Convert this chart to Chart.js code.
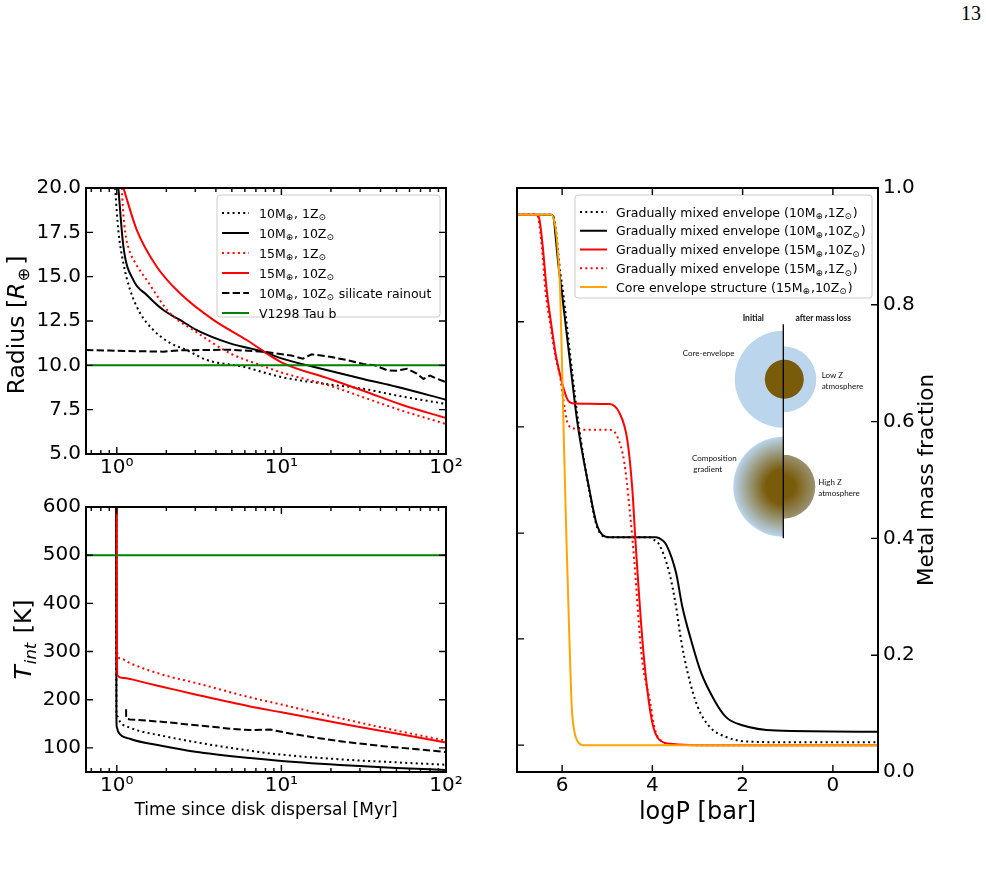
<!DOCTYPE html>
<html>
<head>
<meta charset="utf-8">
<title>Radius, T_int and metal mass fraction</title>
<script src="https://cdn.jsdelivr.net/npm/chart.js@4.4.1/dist/chart.umd.min.js"></script>
<style>
  body { margin: 0; background: #fff; }
  #page { position: relative; width: 986px; height: 874px; overflow: hidden; background: #fff; }
  #pageno { position: absolute; left: 961px; top: 3px; font: 20px "Liberation Serif", serif; line-height: 20px; color: #000; }
  canvas { position: absolute; }
  #cRad { left: 0; top: 170px; }
  #cTint { left: 0; top: 490px; }
  #cZ { left: 490px; top: 170px; }
</style>
</head>
<body>
<div id="page">
  <div id="pageno">13</div>
  <canvas id="cRad" width="470" height="320"></canvas>
  <canvas id="cTint" width="470" height="370"></canvas>
  <canvas id="cZ" width="496" height="680"></canvas>
</div>
<script>
// ticks
const timeTicks = [1, 10, 100];
const timeTickLabels = ["10⁰", "10¹", "10²"];
const timeMinor = [0.7, 0.8, 0.9, 2, 3, 4, 5, 6, 7, 8, 9, 20, 30, 40, 50, 60, 70, 80, 90];
const radiusTicks = [5, 7.5, 10, 12.5, 15, 17.5, 20];
const tintTicks = [100, 200, 300, 400, 500, 600];
const pTicks = [6, 4, 2, 0];
const zTicks = [0, 0.2, 0.4, 0.6, 0.8, 1.0];
const zLeftTicks = [0.046, 0.228, 0.409, 0.591, 0.771];

// legend labels ("_" = next char is a subscript)
const evoLabels = ["10M_⊕, 1Z_⊙", "10M_⊕, 10Z_⊙", "15M_⊕, 1Z_⊙", "15M_⊕, 10Z_⊙", "10M_⊕, 10Z_⊙ silicate rainout", "V1298 Tau b"];
const zLabels = [
  "Gradually mixed envelope (10M_⊕,1Z_⊙)",
  "Gradually mixed envelope (10M_⊕,10Z_⊙)",
  "Gradually mixed envelope (15M_⊕,10Z_⊙)",
  "Gradually mixed envelope (15M_⊕,1Z_⊙)",
  "Core envelope structure (15M_⊕,10Z_⊙)"
];

// radius vs time [Myr]
const tR10m1z = [0.976, 1.022, 1.097, 1.205, 1.385, 1.668, 2.107, 2.66, 3.52, 5.85, 10, 19.7, 31.4, 50.1, 100];
const r10m1z = [20, 17.6, 15.75, 14.25, 12.95, 11.99, 11.26, 10.86, 10.3, 9.92, 9.34, 8.92, 8.68, 8.3, 7.82];
const tR10m10z = [1.022, 1.097, 1.261, 1.52, 1.918, 2.42, 3.06, 4.875, 7.77, 10, 15.6, 31.4, 50.1, 100];
const r10m10z = [20, 16.69, 14.81, 13.97, 13.12, 12.56, 11.99, 11.24, 10.77, 10.39, 9.92, 9.23, 8.79, 8.06];
const tR15m1z = [1.072, 1.095, 1.125, 1.18, 1.31, 1.52, 2.107, 2.92, 4.875, 7.42, 10, 19.7, 31.4, 55, 100];
const r15m1z = [20, 18.6, 17.5, 16.6, 15.7, 14.81, 12.93, 11.99, 10.68, 10.02, 9.6, 8.85, 8.2, 7.42, 6.69];
const tR15m10z = [1.097, 1.323, 1.75, 2.42, 3.86, 6.15, 10, 19.7, 31.4, 55, 100];
const r15m10z = [20, 17.63, 15.56, 14.06, 12.56, 11.43, 10.17, 9.23, 8.57, 7.75, 7.03];
const tRrain = [0.65, 0.9, 1.3, 1.92, 2.42, 4.88, 7.77, 11.5, 13.5, 15.3, 19.7, 25, 31.4, 37, 44, 50, 58, 66, 73, 80, 88, 100];
const rRrain = [10.86, 10.83, 10.8, 10.77, 10.85, 10.88, 10.77, 10.55, 10.38, 10.62, 10.48, 10.3, 10.08, 10.0, 9.72, 9.7, 9.8, 9.55, 9.23, 9.42, 9.25, 9.05];
const tObs = [0.65, 100];
const rObs = [10, 10];

// T_int vs time [Myr]
const tT10m1z = [0.99, 0.995, 1.0, 1.047, 1.2, 1.9, 3, 6.45, 10, 26.1, 50, 100];
const T10m1z = [640, 180, 168, 154, 142, 125, 112, 94, 86, 75, 70, 65];
const tT10m10z = [0.99, 0.995, 1.0, 1.022, 1.2, 1.9, 3, 6.45, 10, 26.1, 50, 100];
const T10m10z = [640, 160, 143, 133, 119, 104, 92, 79, 73, 63.5, 58.5, 54];
const tT15m1z = [1.0, 1.003, 1.05, 1.2, 1.9, 3, 6.45, 10, 26.1, 50, 100];
const T15m1z = [640, 300, 286, 276, 252, 235, 205, 190, 157, 136, 115];
const tT15m10z = [1.0, 1.002, 1.01, 1.1, 1.5, 2, 3, 6.45, 10, 26.1, 50, 100];
const T15m10z = [640, 300, 250, 245, 235, 225, 211, 186, 174, 147, 130, 111];
const tTrain = [1.139, 1.14, 1.16, 1.205, 1.918, 3.06, 4.875, 6.45, 8.54, 11.3, 16.3, 25, 41.7, 100];
const Train = [180, 163, 160, 159, 154, 147, 140, 137, 138, 130, 121, 112, 103.5, 91.7];
const TObs = [500, 500];

// metal mass fraction vs logP [bar]
const pGm10m1z = [7.0, 6.237, 6.17, 6.126, 6.06, 5.971, 5.816, 5.639, 5.395, 5.24, 5.13, 5.0, 4.067, 3.955, 3.845, 3.624, 3.475, 3.364, 3.218, 2.997, 2.738, 2.368, 1.851, 1.0, -1.0];
const zGm10m1z = [0.954, 0.954, 0.945, 0.92, 0.868, 0.817, 0.711, 0.598, 0.48, 0.423, 0.406, 0.402, 0.402, 0.397, 0.389, 0.341, 0.283, 0.226, 0.17, 0.112, 0.078, 0.06, 0.052, 0.051, 0.051];
const pGm10m10z = [7.0, 6.237, 6.18, 6.148, 6.082, 6.0, 5.838, 5.661, 5.395, 5.24, 5.107, 4.952, 3.918, 3.779, 3.69, 3.475, 3.336, 3.143, 2.921, 2.627, 2.368, 2.007, 1.26, -1.0];
const zGm10m10z = [0.954, 0.954, 0.945, 0.92, 0.868, 0.817, 0.711, 0.598, 0.483, 0.426, 0.406, 0.402, 0.402, 0.397, 0.389, 0.341, 0.283, 0.226, 0.17, 0.123, 0.094, 0.08, 0.071, 0.069];
const pGm15m10z = [7.0, 6.547, 6.5, 6.43, 6.341, 6.244, 6.133, 6.0, 5.876, 5.728, 4.952, 4.731, 4.554, 4.443, 4.376, 4.221, 4.111, 4.0, 3.845, 3.557, 3.0, -1.0];
const zGm15m10z = [0.954, 0.954, 0.945, 0.9, 0.825, 0.768, 0.711, 0.666, 0.637, 0.631, 0.63, 0.615, 0.568, 0.483, 0.397, 0.226, 0.14, 0.084, 0.055, 0.048, 0.046, 0.046];
const pGm15m1z = [7.0, 6.56, 6.52, 6.45, 6.37, 6.266, 6.148, 6.044, 5.987, 5.876, 5.728, 5.6, 4.952, 4.775, 4.62, 4.509, 4.4, 4.24, 4.05, 3.95, 3.8, 3.5, 3.0, -1.0];
const zGm15m1z = [0.954, 0.954, 0.945, 0.9, 0.825, 0.768, 0.711, 0.677, 0.645, 0.597, 0.588, 0.586, 0.586, 0.574, 0.529, 0.454, 0.36, 0.2, 0.12, 0.075, 0.053, 0.047, 0.046, 0.046];
const pCore = [7.0, 6.244, 6.18, 6.133, 6.08, 6.044, 5.971, 5.905, 5.838, 5.787, 5.728, 5.654, 5.544, 5.3, -1.0];
const zCore = [0.954, 0.954, 0.945, 0.925, 0.875, 0.825, 0.597, 0.4, 0.226, 0.112, 0.069, 0.052, 0.046, 0.046, 0.046];

const tickFont = { family: "DejaVu Sans", size: 20 };
Chart.defaults.font.family = "DejaVu Sans";

function pts(xs, ys) {
  return xs.map((x, i) => ({ x: x, y: ys[i] }));
}

function curve(label, xs, ys, color, style) {
  return {
    label: label,
    data: pts(xs, ys),
    borderColor: color,
    borderWidth: 2,
    borderDash: style === "dot" ? [2, 3.3] : style === "dash" ? [7.4, 3.2] : [],
    cubicInterpolationMode: style === "dash" ? "default" : "monotone",
    pointRadius: 0,
    fill: false
  };
}

// later datasets on top, like matplotlib
function stack(sets) {
  sets.forEach((d, i) => { d.order = sets.length - i; });
  return sets;
}

// rich text: segments {t, it, sub}
function fontOf(s, size) {
  return (s.it ? "italic " : "") + (s.sub ? size * 0.7 : size) + 'px "DejaVu Sans"';
}
function drawRich(ctx, segs, x, y, size, align) {
  let w = 0;
  segs.forEach((s) => { ctx.font = fontOf(s, size); w += ctx.measureText(s.t).width + (s.gap || 0); });
  let cx = align === "center" ? x - w / 2 : x;
  ctx.textAlign = "left";
  ctx.textBaseline = "alphabetic";
  ctx.fillStyle = "#000";
  segs.forEach((s) => {
    ctx.font = fontOf(s, size);
    ctx.fillText(s.t, cx, y + (s.sub ? size * 0.22 : 0));
    cx += ctx.measureText(s.t).width + (s.gap || 0);
  });
}
function parseLabel(str) {
  const parts = str.split("_");
  const segs = [{ t: parts[0] }];
  parts.slice(1).forEach((p) => {
    segs.push({ t: p.charAt(0), sub: true, gap: 1 });
    if (p.length > 1) segs.push({ t: p.slice(1) });
  });
  return segs;
}

// matplotlib style legend box inside the axes
const boxLegend = {
  id: "boxLegend",
  afterDatasetsDraw(chart, args, o) {
    if (!o.w) return;
    const ctx = chart.ctx, a = chart.chartArea;
    const x0 = a.left + o.x, y0 = a.top + o.y;
    ctx.save();
    ctx.fillStyle = "rgba(255,255,255,0.85)";
    ctx.strokeStyle = "#cccccc";
    ctx.lineWidth = 1;
    ctx.beginPath();
    if (ctx.roundRect) ctx.roundRect(x0, y0, o.w, o.h, 3); else ctx.rect(x0, y0, o.w, o.h);
    ctx.fill();
    ctx.stroke();
    chart.data.datasets.forEach((ds, i) => {
      const yy = y0 + o.first + i * o.step;
      ctx.strokeStyle = ds.borderColor;
      ctx.lineWidth = ds.borderWidth;
      ctx.setLineDash(ds.borderDash || []);
      ctx.beginPath();
      ctx.moveTo(x0 + o.lineX, yy);
      ctx.lineTo(x0 + o.lineX + o.lineW, yy);
      ctx.stroke();
      ctx.setLineDash([]);
      drawRich(ctx, parseLabel(ds.label), x0 + o.textX, yy + o.size * 0.36, o.size, "left");
    });
    ctx.restore();
  }
};

// frame + inward tick marks on all four sides
const frameTicks = {
  id: "frameTicks",
  afterDraw(chart, args, o) {
    const ctx = chart.ctx, a = chart.chartArea;
    const xs = chart.scales.x, ys = chart.scales.y;
    ctx.save();
    ctx.strokeStyle = "#000";
    ctx.lineWidth = 1.4;
    ctx.beginPath();
    const xTick = (v, len) => {
      const px = xs.getPixelForValue(v);
      ctx.moveTo(px, a.bottom); ctx.lineTo(px, a.bottom - len);
      ctx.moveTo(px, a.top); ctx.lineTo(px, a.top + len);
    };
    (o.xMajor || []).forEach((v) => xTick(v, 7));
    (o.xMinor || []).forEach((v) => xTick(v, 4));
    (o.yLeft || []).forEach((v) => {
      const py = ys.getPixelForValue(v);
      ctx.moveTo(a.left, py); ctx.lineTo(a.left + 7, py);
    });
    (o.yRight || []).forEach((v) => {
      const py = ys.getPixelForValue(v);
      ctx.moveTo(a.right, py); ctx.lineTo(a.right - 7, py);
    });
    ctx.stroke();
    ctx.lineWidth = 2;
    ctx.strokeRect(a.left, a.top, a.right - a.left, a.bottom - a.top);
    ctx.restore();
  }
};

// axis titles drawn by hand (mixed italic / subscripts, upward text on the right)
const axisTitles = {
  id: "axisTitles",
  afterDraw(chart, args, o) {
    const ctx = chart.ctx, a = chart.chartArea;
    (o.items || []).forEach((it) => {
      ctx.save();
      if (it.side === "bottom") {
        ctx.translate((a.left + a.right) / 2, a.bottom + it.off);
      } else {
        const x = it.side === "left" ? a.left + it.off : a.right + it.off;
        ctx.translate(x, (a.top + a.bottom) / 2 + (it.dy || 0));
        ctx.rotate(-Math.PI / 2);
      }
      drawRich(ctx, it.segs, 0, 0, it.size, "center");
      ctx.restore();
    });
  }
};

// sketch of the two interior structures (core-envelope / composition gradient)
const insetSketch = {
  id: "insetSketch",
  afterDatasetsDraw(chart) {
    const ctx = chart.ctx, a = chart.chartArea;
    const cx = a.left + 266.3, cy1 = a.top + 191.3, cy2 = a.top + 298.7;
    const blue = "#bad5ec", brown = "#7a5b0a";
    const half = (x, y, r, side) => {
      ctx.beginPath();
      if (side === "left") ctx.arc(x, y, r, Math.PI / 2, Math.PI * 1.5);
      else ctx.arc(x, y, r, -Math.PI / 2, Math.PI / 2);
      ctx.closePath();
      ctx.fill();
    };
    ctx.save();
    ctx.fillStyle = blue;
    half(cx, cy1, 48.5, "left");
    half(cx, cy1, 33, "right");
    ctx.fillStyle = brown;
    ctx.beginPath();
    ctx.arc(cx + 1, cy1, 19.5, 0, Math.PI * 2);
    ctx.fill();

    let g = ctx.createRadialGradient(cx, cy2, 0, cx, cy2, 50);
    g.addColorStop(0, brown);
    g.addColorStop(0.35, brown);
    g.addColorStop(1, blue);
    ctx.fillStyle = g;
    half(cx, cy2, 50, "left");
    g = ctx.createRadialGradient(cx, cy2, 0, cx, cy2, 32);
    g.addColorStop(0, brown);
    g.addColorStop(0.35, brown);
    g.addColorStop(1, "#9a9272");
    ctx.fillStyle = g;
    half(cx, cy2, 32, "right");

    ctx.strokeStyle = "#000";
    ctx.lineWidth = 1.3;
    ctx.beginPath();
    ctx.moveTo(cx, a.top + 136.3);
    ctx.lineTo(cx, a.top + 350.3);
    ctx.stroke();

    ctx.fillStyle = "#111";
    ctx.textBaseline = "middle";
    ctx.textAlign = "center";
    ctx.font = 'bold 8.5px "Lato"';
    ctx.fillText("Initial", a.left + 236.3, a.top + 130.3);
    ctx.fillText("after mass loss", a.left + 306.3, a.top + 130.3);
    ctx.font = '8px "Lato"';
    ctx.textAlign = "left";
    ctx.fillText("Core-envelope", a.left + 165.7, a.top + 165.3);
    ctx.fillText("Low Z", a.left + 304.7, a.top + 187.7);
    ctx.fillText("atmosphere", a.left + 304.7, a.top + 198.7);
    ctx.fillText("Composition", a.left + 175, a.top + 270.3);
    ctx.fillText("gradient", a.left + 176.3, a.top + 281);
    ctx.fillText("High Z", a.left + 301.3, a.top + 294.7);
    ctx.fillText("atmosphere", a.left + 301.3, a.top + 305.3);
    ctx.restore();
  }
};

function timeAxis(h) {
  return {
    type: "logarithmic",
    min: 0.65,
    max: 100,
    grid: { display: false, drawTicks: false },
    border: { display: false },
    afterBuildTicks: (s) => { s.ticks = timeTicks.map((v) => ({ value: v })); },
    afterFit: (s) => { s.height = h; },
    ticks: {
      autoSkip: false,
      maxRotation: 0,
      padding: 2,
      color: "#000",
      font: tickFont,
      callback: (v, i) => timeTickLabels[i]
    }
  };
}

function valueAxis(min, max, tickVals, digits, w, pos) {
  return {
    type: "linear",
    position: pos,
    min: min,
    max: max,
    grid: { display: false, drawTicks: false },
    border: { display: false },
    afterBuildTicks: (s) => { s.ticks = tickVals.map((v) => ({ value: v })); },
    afterFit: (s) => { s.width = w; },
    ticks: {
      autoSkip: false,
      padding: 5,
      color: "#000",
      font: tickFont,
      callback: (v) => v.toFixed(digits)
    }
  };
}

const commonOpts = {
  responsive: false,
  animation: false,
  events: [],
  elements: { point: { radius: 0 } }
};

// radius panel
new Chart(document.getElementById("cRad"), {
  type: "line",
  data: {
    datasets: stack([
      curve(evoLabels[0], tR10m1z, r10m1z, "#000000", "dot"),
      curve(evoLabels[1], tR10m10z, r10m10z, "#000000", "solid"),
      curve(evoLabels[2], tR15m1z, r15m1z, "#ff0000", "dot"),
      curve(evoLabels[3], tR15m10z, r15m10z, "#ff0000", "solid"),
      curve(evoLabels[4], tRrain, rRrain, "#000000", "dash"),
      curve(evoLabels[5], tObs, rObs, "#008000", "solid")
    ])
  },
  options: Object.assign({}, commonOpts, {
    layout: { padding: { top: 18, right: 24, left: 0, bottom: 0 } },
    scales: {
      x: timeAxis(36),
      y: valueAxis(5, 20, radiusTicks, 1, 86, "left")
    },
    plugins: {
      legend: { display: false },
      tooltip: { enabled: false },
      boxLegend: { x: 131, y: 7, w: 223, h: 122, first: 18, step: 20, lineX: 5, lineW: 27, textX: 42, size: 12.5 },
      frameTicks: { xMajor: timeTicks, xMinor: timeMinor, yLeft: radiusTicks, yRight: radiusTicks },
      axisTitles: {
        items: [
          { side: "left", off: -62, dy: 4, size: 23.5, segs: [{ t: "Radius [" }, { t: "R", it: true, gap: 1 }, { t: "⊕", sub: true, gap: 3 }, { t: "]" }] }
        ]
      }
    }
  }),
  plugins: [boxLegend, frameTicks, axisTitles]
});

// internal temperature panel
new Chart(document.getElementById("cTint"), {
  type: "line",
  data: {
    datasets: stack([
      curve(evoLabels[0], tT10m1z, T10m1z, "#000000", "dot"),
      curve(evoLabels[1], tT10m10z, T10m10z, "#000000", "solid"),
      curve(evoLabels[2], tT15m1z, T15m1z, "#ff0000", "dot"),
      curve(evoLabels[3], tT15m10z, T15m10z, "#ff0000", "solid"),
      curve(evoLabels[4], tTrain, Train, "#000000", "dash"),
      curve(evoLabels[5], tObs, TObs, "#008000", "solid")
    ])
  },
  options: Object.assign({}, commonOpts, {
    layout: { padding: { top: 17, right: 24, left: 0, bottom: 0 } },
    scales: {
      x: timeAxis(88),
      y: valueAxis(50, 600, tintTicks, 0, 86, "left")
    },
    plugins: {
      legend: { display: false },
      tooltip: { enabled: false },
      frameTicks: { xMajor: timeTicks, xMinor: timeMinor, yLeft: tintTicks, yRight: tintTicks },
      axisTitles: {
        items: [
          { side: "left", off: -55, dy: 0, size: 23.5, segs: [{ t: "T", it: true, gap: 1 }, { t: "int", it: true, sub: true, gap: 2 }, { t: " [K]" }] },
          { side: "bottom", off: 43, size: 17, segs: [{ t: "Time since disk dispersal [Myr]" }] }
        ]
      }
    }
  }),
  plugins: [frameTicks, axisTitles]
});

// metal mass fraction profiles
new Chart(document.getElementById("cZ"), {
  type: "line",
  data: {
    datasets: stack([
      curve(zLabels[0], pGm10m1z, zGm10m1z, "#000000", "dot"),
      curve(zLabels[1], pGm10m10z, zGm10m10z, "#000000", "solid"),
      curve(zLabels[2], pGm15m10z, zGm15m10z, "#ff0000", "solid"),
      curve(zLabels[3], pGm15m1z, zGm15m1z, "#ff0000", "dot"),
      curve(zLabels[4], pCore, zCore, "#ffa500", "solid")
    ])
  },
  options: Object.assign({}, commonOpts, {
    layout: { padding: { top: 18, right: 0, left: 27, bottom: 0 } },
    scales: {
      x: {
        type: "linear",
        min: -1,
        max: 7,
        reverse: true,
        grid: { display: false, drawTicks: false },
        border: { display: false },
        afterBuildTicks: (s) => { s.ticks = pTicks.map((v) => ({ value: v })); },
        afterFit: (s) => { s.height = 78; },
        ticks: { autoSkip: false, maxRotation: 0, padding: 2, color: "#000", font: tickFont, callback: (v) => String(v) }
      },
      y: valueAxis(0, 1, zTicks, 1, 108, "right")
    },
    plugins: {
      legend: { display: false },
      tooltip: { enabled: false },
      boxLegend: { x: 58, y: 7, w: 297, h: 103, first: 17, step: 18.75, lineX: 5, lineW: 27, textX: 41, size: 12.5 },
      frameTicks: { xMajor: pTicks, yLeft: zLeftTicks, yRight: zTicks },
      axisTitles: {
        items: [
          { side: "right", off: 55, dy: 0, size: 21.5, segs: [{ t: "Metal mass fraction" }] },
          { side: "bottom", off: 47, size: 24, segs: [{ t: "logP [bar]" }] }
        ]
      }
    }
  }),
  plugins: [insetSketch, boxLegend, frameTicks, axisTitles]
});
</script>
</body>
</html>
